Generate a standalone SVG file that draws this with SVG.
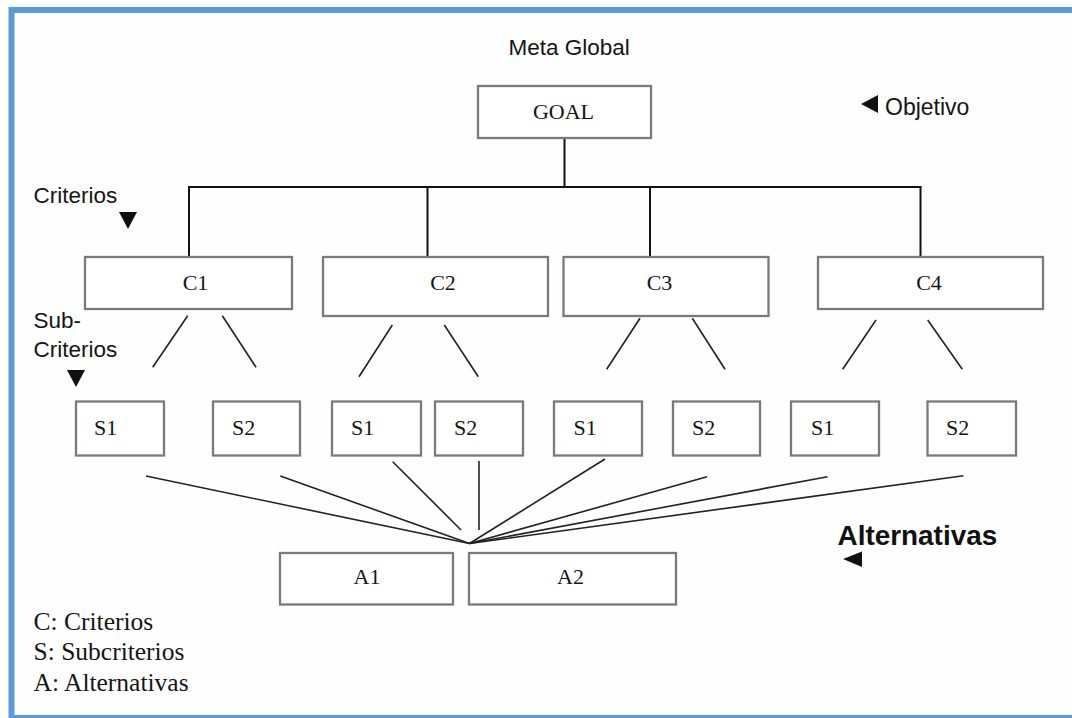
<svg xmlns="http://www.w3.org/2000/svg" width="1072" height="718" viewBox="0 0 1072 718">
<style>
.box{fill:#ffffff;stroke:#7a7a7a;stroke-width:2.3}
.bl{font-family:"Liberation Serif","Times New Roman",serif;font-size:22px;fill:#151515}
.lab{font-family:"Liberation Sans",Arial,sans-serif;font-size:22.5px;fill:#151515}
.leg{font-family:"Liberation Serif","Times New Roman",serif;font-size:25.5px;fill:#151515}
.tri{fill:#111111}
.h{stroke:#111111;stroke-width:2;fill:none}
.c{stroke:#222222;stroke-width:1.6;fill:none}
</style>
<rect x="0" y="0" width="1072" height="718" fill="#ffffff"/>
<rect x="11.5" y="10" width="1075" height="708" fill="#fefefe" stroke="#5b9bd5" stroke-width="6"/>

<g id="connectors">
  <line class="h" x1="564.5" y1="138" x2="564.5" y2="187"/>
  <line class="h" x1="188" y1="187" x2="921.5" y2="187"/>
  <line class="h" x1="189" y1="187" x2="189" y2="257"/>
  <line class="h" x1="427.5" y1="187" x2="427.5" y2="257"/>
  <line class="h" x1="650" y1="187" x2="650" y2="257"/>
  <line class="h" x1="920.5" y1="187" x2="920.5" y2="257"/>

  <line class="c" x1="187.7" y1="315.7" x2="152.7" y2="367.3"/>
  <line class="c" x1="222.3" y1="315.7" x2="256" y2="367.3"/>
  <line class="c" x1="392.3" y1="325" x2="359" y2="376.7"/>
  <line class="c" x1="444.3" y1="325" x2="478.3" y2="376.7"/>
  <line class="c" x1="640" y1="318.3" x2="606.7" y2="369.3"/>
  <line class="c" x1="692.3" y1="318.3" x2="725" y2="369.3"/>
  <line class="c" x1="876" y1="320" x2="842.7" y2="369.3"/>
  <line class="c" x1="927.7" y1="320" x2="962.3" y2="369.3"/>

  <line class="c" x1="146" y1="476" x2="469.5" y2="543.5"/>
  <line class="c" x1="280.3" y1="476" x2="469.5" y2="543.5"/>
  <line class="c" x1="392.7" y1="461.7" x2="461" y2="530"/>
  <line class="c" x1="479" y1="461" x2="479" y2="530"/>
  <line class="c" x1="605" y1="459" x2="469.5" y2="543.5"/>
  <line class="c" x1="707" y1="476.7" x2="469.5" y2="543.5"/>
  <line class="c" x1="827.6" y1="476.7" x2="469.5" y2="543.5"/>
  <line class="c" x1="963.4" y1="475.7" x2="469.5" y2="543.5"/>
</g>

<g id="label-meta">
  <text class="lab" x="508.5" y="54.5">Meta Global</text>
</g>
<g id="label-objetivo">
  <polygon class="tri" points="861,104 878,95 878,113"/>
  <text class="lab" x="885" y="114.5" style="font-size:23px">Objetivo</text>
</g>
<g id="label-criterios">
  <text class="lab" x="33.5" y="203">Criterios</text>
  <polygon class="tri" points="119,212 137,212 128,229"/>
</g>
<g id="label-subcriterios">
  <text class="lab" x="33.5" y="328">Sub-</text>
  <text class="lab" x="33.5" y="357">Criterios</text>
  <polygon class="tri" points="67,370 85,370 76,387"/>
</g>
<g id="label-alternativas">
  <text x="837.5" y="545" style="font-family:'Liberation Sans',Arial,sans-serif;font-weight:bold;font-size:27.9px;fill:#111">Alternativas</text>
  <polygon class="tri" points="843,559 862,551.5 862,567"/>
</g>

<g id="goal">
  <rect class="box" x="478" y="86" width="173" height="52"/>
  <text class="bl" x="563.5" y="119" text-anchor="middle">GOAL</text>
</g>

<g id="c1">
  <rect class="box" x="85" y="257" width="207" height="52"/>
  <text class="bl" x="195.5" y="290" text-anchor="middle">C1</text>
</g>
<g id="c2">
  <rect class="box" x="323" y="257" width="225" height="59"/>
  <text class="bl" x="443" y="290" text-anchor="middle">C2</text>
</g>
<g id="c3">
  <rect class="box" x="563.5" y="257" width="205" height="59"/>
  <text class="bl" x="659.5" y="290" text-anchor="middle">C3</text>
</g>
<g id="c4">
  <rect class="box" x="818" y="257" width="225" height="52"/>
  <text class="bl" x="929" y="290" text-anchor="middle">C4</text>
</g>

<g id="c1-s1">
  <rect class="box" x="76" y="401.5" width="88" height="54"/>
  <text class="bl" x="94" y="434.5">S1</text>
</g>
<g id="c1-s2">
  <rect class="box" x="213" y="401.5" width="87" height="54"/>
  <text class="bl" x="232" y="434.5">S2</text>
</g>
<g id="c2-s1">
  <rect class="box" x="332" y="401.5" width="89" height="54"/>
  <text class="bl" x="351" y="434.5">S1</text>
</g>
<g id="c2-s2">
  <rect class="box" x="435" y="401.5" width="88" height="54"/>
  <text class="bl" x="454" y="434.5">S2</text>
</g>
<g id="c3-s1">
  <rect class="box" x="554" y="401.5" width="88" height="54"/>
  <text class="bl" x="573.5" y="434.5">S1</text>
</g>
<g id="c3-s2">
  <rect class="box" x="673" y="401.5" width="87" height="54"/>
  <text class="bl" x="692" y="434.5">S2</text>
</g>
<g id="c4-s1">
  <rect class="box" x="791" y="401.5" width="88" height="54"/>
  <text class="bl" x="811" y="434.5">S1</text>
</g>
<g id="c4-s2">
  <rect class="box" x="927.5" y="401.5" width="88.5" height="54"/>
  <text class="bl" x="946" y="434.5">S2</text>
</g>

<g id="a1">
  <rect class="box" x="280" y="553" width="173" height="51.5"/>
  <text class="bl" x="367" y="584" text-anchor="middle">A1</text>
</g>
<g id="a2">
  <rect class="box" x="469" y="553" width="207" height="51.5"/>
  <text class="bl" x="570.5" y="584" text-anchor="middle">A2</text>
</g>

<g id="legend">
  <text class="leg" x="33.5" y="630">C: Criterios</text>
  <text class="leg" x="33.5" y="660">S: Subcriterios</text>
  <text class="leg" x="33.5" y="690.5">A: Alternativas</text>
</g>
</svg>
